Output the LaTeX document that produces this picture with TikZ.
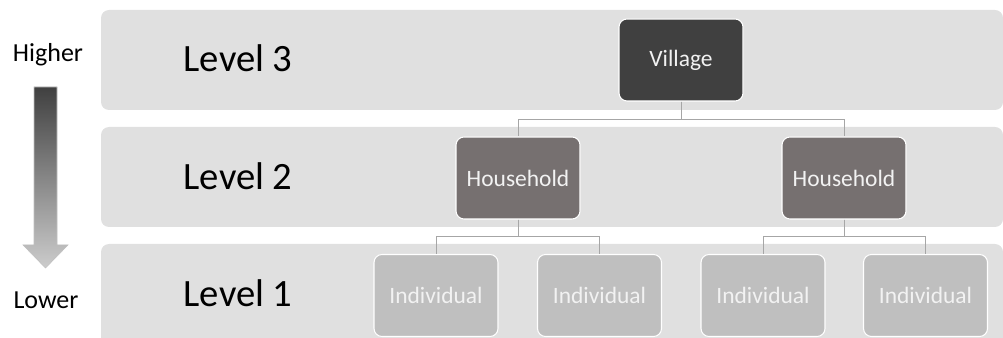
\documentclass[tikz,border=0pt]{standalone}
\usepackage{fontspec}
\setmainfont{Carlito}
\usepackage{tikz}
\usetikzlibrary{positioning}
\definecolor{BandGrey}   {HTML}{E0E0E0}
\definecolor{VillageFill}{HTML}{404040}
\definecolor{HouseFill}  {HTML}{767070}
\definecolor{IndivFill}  {HTML}{BFBFBF}
\definecolor{LinkGrey}   {HTML}{A6A6A6}
\definecolor{BoxText}    {HTML}{F2F2F2}

\begin{document}
\begin{tikzpicture}[
  x=0.75pt, y=-0.75pt,
  band/.style={fill=BandGrey,rounded corners=6pt},
  lvl/.style={anchor=west,font=\fontsize{29}{34}\selectfont,text=black},
  side/.style={font=\fontsize{19.5}{23}\selectfont,text=black},
  unit/.style={draw=white,line width=0.8pt,rounded corners=6pt,text=BoxText,
               minimum width=93pt,minimum height=61.5pt,
               font=\fontsize{17.6}{20}\selectfont,inner sep=0pt},
  link/.style={draw=LinkGrey,line width=0.75pt}
]
  \useasboundingbox (0,0) rectangle (1003,338);
  \clip (0,0) rectangle (1003,338);

  % level bands
  \fill[band] (101,10)  rectangle (1003,110);
  \fill[band] (101,127) rectangle (1003,227);
  \fill[band] (101,244) rectangle (1003,350);

  \node[lvl] (l3) at (179,58)  {Level 3};
  \node[lvl] (l2) at (179,176) {Level 2};
  \node[lvl] (l1) at (179,293) {Level 1};

  % higher -> lower arrow
  \node[side] (hi) at (48,55)  {Higher};
  \node[side] (lo) at (46,300) {Lower};
  \shade[top color=VillageFill,bottom color=IndivFill!80!white,draw=IndivFill,line width=0.4pt]
    (34,87) -- (57,87) -- (57,245) -- (68,245) -- (45.5,268)
    -- (23,245) -- (34,245) -- cycle;

  % tree
  \node[unit,fill=VillageFill] (village) at (681,60)  {Village};
  \node[unit,fill=HouseFill]   (hh1)     at (518,178) {Household};
  \node[unit,fill=HouseFill]   (hh2)     at (844,178) {Household};

  \node[unit,fill=IndivFill] (ind1) at (436,295.5)   {Individual};
  \node[unit,fill=IndivFill] (ind2) at (599.5,295.5) {Individual};
  \node[unit,fill=IndivFill] (ind3) at (763,295.5)   {Individual};
  \node[unit,fill=IndivFill] (ind4) at (925.5,295.5) {Individual};

  \draw[link] (village.south) -- ++(0,18) -| (hh1.north);
  \draw[link] (village.south) -- ++(0,18) -| (hh2.north);
  \draw[link] (hh1.south) -- ++(0,17) -| (ind1.north);
  \draw[link] (hh1.south) -- ++(0,17) -| (ind2.north);
  \draw[link] (hh2.south) -- ++(0,17) -| (ind3.north);
  \draw[link] (hh2.south) -- ++(0,17) -| (ind4.north);
\end{tikzpicture}
\end{document}
